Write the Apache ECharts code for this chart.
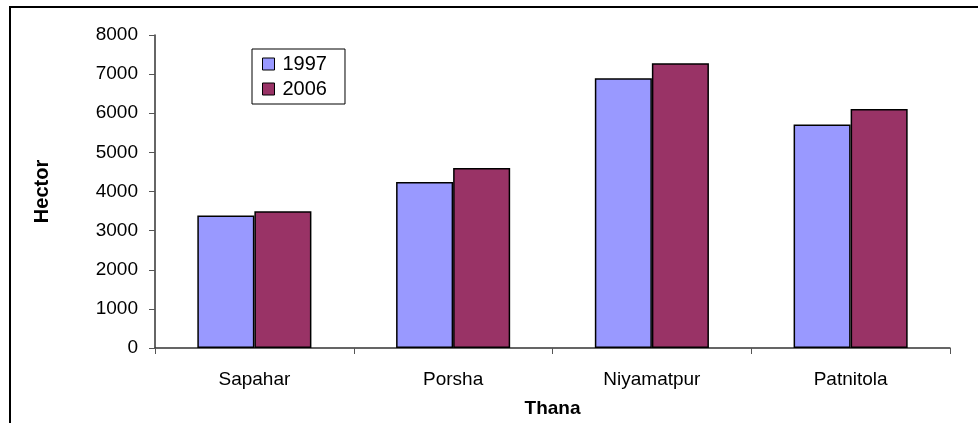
<!DOCTYPE html>
<html>
<head>
<meta charset="utf-8">
<script src="https://cdn.jsdelivr.net/npm/echarts@6/dist/echarts.min.js"></script>
<style>
html,body{margin:0;padding:0;background:#fff;}
#chart{width:978px;height:423px;}
</style>
</head>
<body>
<div id="chart"></div>
<script>
const categories = ['Sapahar', 'Porsha', 'Niyamatpur', 'Patnitola'];
const seriesNames = ['1997', '2006'];
const values1997 = [3385, 4245, 6895, 5715];
const values2006 = [3495, 4600, 7275, 6110];
const yTicks = [0, 1000, 2000, 3000, 4000, 5000, 6000, 7000, 8000];

const FONT = 'Liberation Sans, Arial, sans-serif';
const chart = echarts.init(document.getElementById('chart'), null, {renderer: 'canvas'});
chart.setOption({
  animation: false,
  backgroundColor: '#fff',
  graphic: [{
    type: 'rect', silent: true,
    shape: {x: 10, y: 7, width: 1200, height: 600},
    style: {fill: 'none', stroke: '#000', lineWidth: 2}
  }],
  legend: {
    left: 252, top: 49,
    orient: 'vertical',
    icon: 'rect',
    itemWidth: 12, itemHeight: 12, itemGap: 5,
    padding: [5, 18, 5, 10],
    borderColor: '#000', borderWidth: 1,
    itemStyle: {borderColor: '#000', borderWidth: 1},
    textStyle: {fontFamily: FONT, fontSize: 20, color: '#000', padding: [0, 0, 0, 3]},
    data: seriesNames
  },
  grid: {left: 155, top: 35, right: 28, bottom: 72, containLabel: false},
  xAxis: {
    type: 'category',
    data: categories,
    name: 'Thana',
    nameLocation: 'middle',
    nameGap: 51,
    nameTextStyle: {fontFamily: FONT, fontSize: 19, fontWeight: 'bold', color: '#000'},
    axisLine: {lineStyle: {color: '#333', width: 1.5}},
    axisTick: {show: true, length: 6, lineStyle: {color: '#555'}},
    axisLabel: {fontFamily: FONT, fontSize: 19, color: '#000', margin: 22}
  },
  yAxis: {
    type: 'value',
    min: 0, max: 8000, interval: 1000,
    name: 'Hector',
    nameLocation: 'middle',
    nameGap: 103,
    nameRotate: 90,
    nameTextStyle: {fontFamily: FONT, fontSize: 20, fontWeight: 'bold', color: '#000'},
    splitLine: {show: false},
    axisLine: {show: true, lineStyle: {color: '#333', width: 1.5}},
    axisTick: {show: true, length: 6, lineStyle: {color: '#555'}},
    axisLabel: {fontFamily: FONT, fontSize: 19, color: '#000', margin: 17,
      formatter: v => (yTicks.indexOf(v) >= 0 ? String(v) : '')}
  },
  series: [
    {name: seriesNames[0], type: 'bar', data: values1997, barGap: '0%', barCategoryGap: '42.6%',
     itemStyle: {color: '#9999FF', borderColor: '#000', borderWidth: 1.5}},
    {name: seriesNames[1], type: 'bar', data: values2006, barGap: '0%', barCategoryGap: '42.6%',
     itemStyle: {color: '#993366', borderColor: '#000', borderWidth: 1.5}}
  ]
});
</script>
</body>
</html>
